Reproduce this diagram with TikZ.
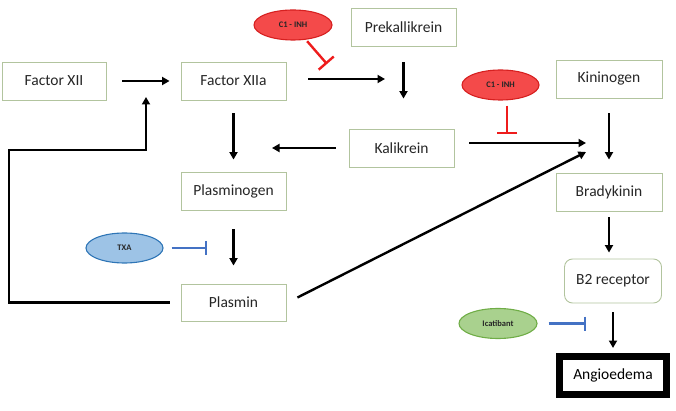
\documentclass[tikz,border=0pt]{standalone}
\usepackage{fontspec}
\setmainfont{Carlito}
\usetikzlibrary{arrows.meta,calc,shapes.geometric}
\definecolor{boxline}{HTML}{B2C49E}
\definecolor{txt}{HTML}{262626}
\definecolor{redfill}{HTML}{F44A4A}
\definecolor{redline}{HTML}{D62020}
\definecolor{inhred}{HTML}{EE1C1C}
\definecolor{bluefill}{HTML}{9DC3E6}
\definecolor{blueline}{HTML}{2E75B6}
\definecolor{inhblue}{HTML}{4472C4}
\definecolor{greenfill}{HTML}{A9D18E}
\definecolor{greenline}{HTML}{70AD47}
\tikzset{
  boxnode/.style={draw=boxline, line width=0.9pt, fill=white, minimum width=105pt, minimum height=38pt, inner sep=0pt, font=\fontsize{15.5}{18}\selectfont, text=txt},
  drug/.style={ellipse, line width=1.1pt, minimum width=78pt, minimum height=30pt, inner sep=0pt, font=\fontsize{8.5}{10}\selectfont\bfseries, text=txt},
  arr/.style={draw=black, line width=2.4pt, -{Triangle[length=7.5pt,width=8pt]}},
  inhR/.style={draw=inhred, line width=2.4pt, -{Bar[width=20pt]}},
  inhB/.style={draw=inhblue, line width=2.4pt, -{Bar[width=14pt]}},
}
\begin{document}
\begin{tikzpicture}[x=1pt,y=-1pt]
\useasboundingbox (0,0) rectangle (676,411);
% boxes
\node[boxnode, minimum width=104pt] (f12) at (54,81) {Factor XII};
\node[boxnode] (f12a) at (233.5,81) {Factor XIIa};
\node[boxnode] (plg) at (233.5,191) {Plasminogen};
\node[boxnode, minimum height=37pt] (pls) at (233.5,302.5) {Plasmin};
\node[boxnode] (pkk) at (403.5,27) {Prekallikrein};
\node[boxnode] (kal) at (401.5,148) {Kalikrein};
\node[boxnode, minimum width=106pt] (kng) at (609,79) {Kininogen};
\node[boxnode, minimum width=106pt] (bdk) at (609,192) {Bradykinin};
\node[boxnode, rounded corners=8pt, minimum width=97pt, minimum height=44pt] (b2r) at (613,281) {B2 receptor};
\node[draw=black, line width=7pt, fill=white, minimum width=107pt, minimum height=38pt, inner sep=0pt, font=\fontsize{15.5}{18}\selectfont, text=black] (ang) at (613,375.5) {Angioedema};
% drugs
\node[drug, draw=redline, fill=redfill] (c1a) at (293,25) {C1 - INH};
\node[drug, draw=redline, fill=redfill, minimum width=77pt] (c1b) at (500.5,85) {C1 - INH};
\node[drug, draw=blueline, fill=bluefill, minimum width=77pt] (txa) at (124.5,248) {TXA};
\node[drug, draw=greenline, fill=greenfill] (ica) at (498,323.5) {Icatibant};
% junction coordinates
\coordinate (j1) at (272,148);
\coordinate (j2) at (385,79);
\coordinate (j3) at (586,143);
\coordinate (j4) at (586,152);
\coordinate (fb1) at (9,302.5);
\coordinate (fb3) at (146,150);
\coordinate (fb4) at (146,97);
\coordinate (i1) at (327,64);
\coordinate (i2) at (507,134);
\coordinate (i3) at (207,248);
\coordinate (i4) at (586,323.5);
% arrows
\draw[arr, shorten <=16pt, shorten >=11pt] (f12.east) -- (f12a.west);
\draw[arr, shorten <=13pt, shorten >=12pt] (f12a.south) -- (plg.north);
\draw[arr, shorten <=13pt] (kal.west) -- (j1);
\draw[arr, shorten <=22pt] (f12a.east |- j2) -- (j2);
\draw[arr, shorten <=16pt, shorten >=30pt] (pkk.south) -- (pkk.south |- kal.north);
\draw[arr, shorten <=15pt] (kal.east |- j3) -- (j3);
\draw[arr, shorten <=15pt, shorten >=13pt] (kng.south) -- (bdk.north);
\draw[arr, shorten <=19pt, shorten >=18pt] (plg.south) -- (pls.north);
\draw[arr] ($(pls.east)+(11,-5)$) -- (j4);
\draw[arr, shorten <=6pt, shorten >=6pt] (bdk.south) -- (bdk.south |- b2r.north);
\draw[arr, shorten <=9pt, shorten >=5pt] (b2r.south -| ang.north) -- (ang.north);
\draw[arr, shorten <=11pt] (pls.west) -- (fb1) |- (fb3) -- (fb4);
% inhibitors
\draw[inhR, shorten <=2pt] (c1a) -- (i1);
\draw[inhR, shorten <=5pt] (c1b.south -| i2) -- (i2);
\draw[inhB, shorten <=8pt] (txa.east) -- (i3);
\draw[inhB, shorten <=11pt] (ica.east) -- (i4);
\end{tikzpicture}
\end{document}
